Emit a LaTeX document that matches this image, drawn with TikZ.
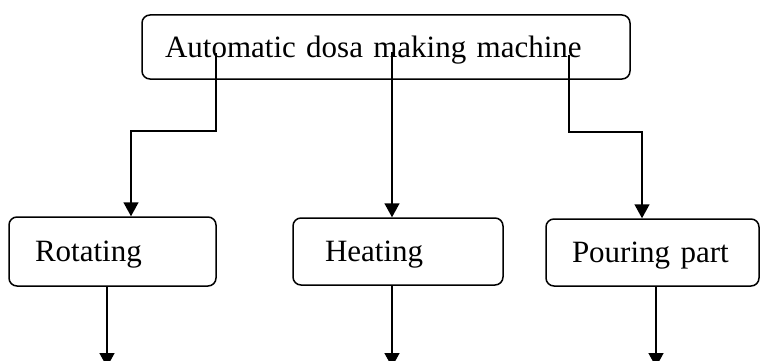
\documentclass[tikz,border=0pt]{standalone}
\usepackage{fontspec}
\setmainfont{Liberation Serif}
\usetikzlibrary{arrows.meta}
\begin{document}
\begin{tikzpicture}[x=1pt,y=-1pt,
  box/.style={draw, line width=1.5pt, rounded corners=8pt, align=left,
    font=\fontsize{31}{37}\selectfont, text height=20pt, text depth=0pt,
    inner ysep=0pt},
  arr/.style={line width=1.5pt, -{Triangle[width=15pt,length=14pt]}}]
\useasboundingbox (0,0) rectangle (760,361);
\node[box, text width=442pt, inner xsep=23pt, minimum height=64pt] (top) at (386,47) {Automatic dosa making machine};
\node[box, text width=155pt, inner xsep=26pt, minimum height=69pt] (rot) at (112.5,251.5) {Rotating};
\node[box, text width=146pt, inner xsep=32pt, minimum height=67pt] (heat) at (398,251.5) {Heating};
\node[box, text width=161pt, inner xsep=26pt, minimum height=67pt] (pour) at (652.5,252.5) {Pouring part};
\coordinate (s1) at (216,53);
\coordinate (s2) at (392,52);
\coordinate (s3) at (569,55);
\draw[arr] (s1) -- ++(0,78) -| ([xshift=18.5pt]rot.north);
\draw[arr] (s2) -- (s2 |- heat.north);
\draw[arr] (s3) -- ++(0,77) -| ([xshift=-10.5pt]pour.north);
\coordinate (e1) at (107,367);
\coordinate (e2) at (392,367);
\coordinate (e3) at (656,367);
\draw[arr] (rot.south -| e1) -- (e1);
\draw[arr] (heat.south -| e2) -- (e2);
\draw[arr] (pour.south -| e3) -- (e3);
\end{tikzpicture}
\end{document}
